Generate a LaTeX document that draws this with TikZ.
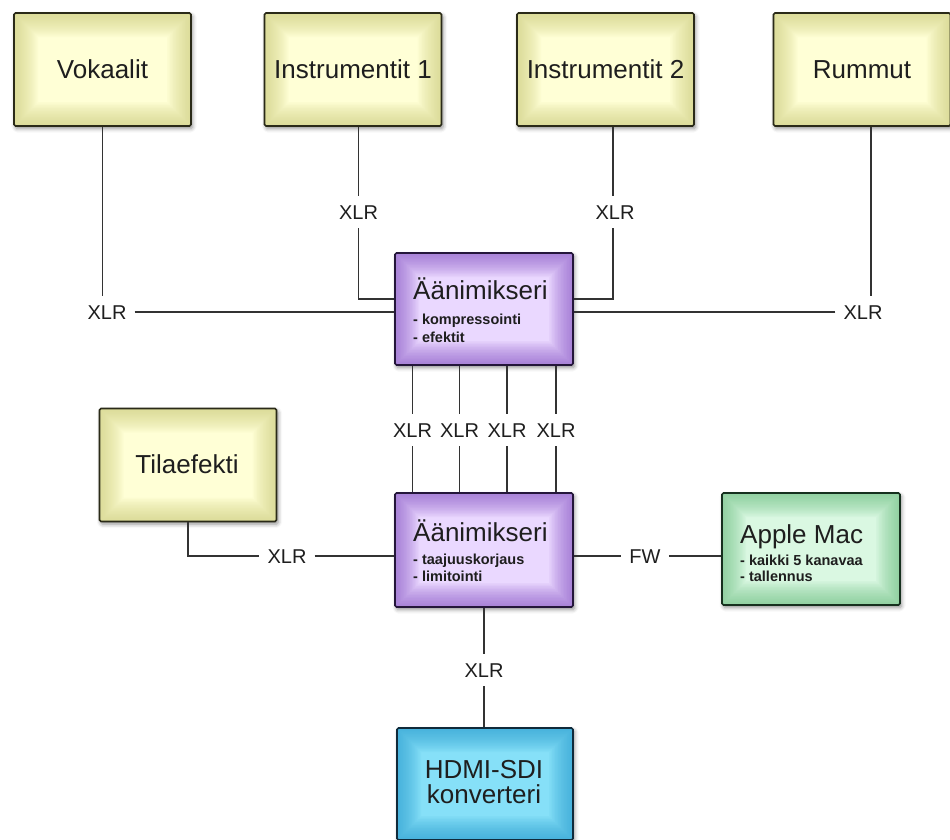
\documentclass[tikz,border=0pt]{standalone}
\usepackage{fontspec}
\setmainfont{Liberation Sans}
\usetikzlibrary{calc,shadows.blur}
\definecolor{txt}{HTML}{1E1E1E}
\definecolor{wire}{HTML}{333333}
\definecolor{yelIn}{HTML}{FFFFD6}
\definecolor{yelOut}{HTML}{CFCF7E}
\definecolor{yelBd}{HTML}{2A2A18}
\definecolor{purIn}{HTML}{EAD8FF}
\definecolor{purOut}{HTML}{8A58C8}
\definecolor{purBd}{HTML}{24163A}
\definecolor{grnIn}{HTML}{DAF8E2}
\definecolor{grnOut}{HTML}{6EC283}
\definecolor{grnBd}{HTML}{16301E}
\definecolor{bluIn}{HTML}{86E0F8}
\definecolor{bluOut}{HTML}{2A9ED2}
\definecolor{bluBd}{HTML}{102A3A}
\tikzset{
  box/.style={draw=#1Bd, line width=1.6pt, rounded corners=1.5pt, fill=#1In,
    minimum width=177pt, minimum height=113pt, inner sep=0pt,
    blur shadow={shadow xshift=1.5pt, shadow yshift=-2.5pt, shadow blur radius=4pt, shadow opacity=45},
    path picture={\foreach \w in {3,6,...,48}{\draw[draw=#1Out, line width=\w pt, draw opacity=0.06]
      (path picture bounding box.south west) rectangle (path picture bounding box.north east);}}},
  title/.style={text=txt, inner sep=0pt, font=\fontsize{26}{30}\selectfont},
  sub/.style={text=txt, inner sep=0pt, anchor=base west, font=\fontsize{14.5}{17}\selectfont\bfseries},
  lbl/.style={text=txt, inner xsep=8pt, inner ysep=9pt, text height=14.3pt, text depth=0pt,
    font=\fontsize{20}{24}\selectfont},
  wirestyle/.style={draw=wire, line width=1.4pt}
}
\begin{document}
\begin{tikzpicture}[x=1pt,y=-1pt]
\useasboundingbox (0,0) rectangle (950,839);
% boxes
\node[box=yel] (vok) at (102.5,69.5) {};
\node[box=yel] (in1) at (353,69.5) {};
\node[box=yel] (in2) at (605.5,69.5) {};
\node[box=yel] (rum) at (862,69.5) {};
\node[box=yel] (til) at (188,465) {};
\node[box=pur, minimum width=178pt, minimum height=112pt] (m1) at (484,309) {};
\node[box=pur, minimum width=178pt, minimum height=114pt] (m2) at (484,550) {};
\node[box=grn, minimum width=178pt, minimum height=112pt] (mac) at (811,549) {};
\node[box=blu, minimum width=176pt, minimum height=112pt] (hd) at (485,784) {};
% titles
\node[title, anchor=base] (tvok) at (102.5,78) {Vokaalit};
\node[title, anchor=base] (tin1) at (353,78) {Instrumentit 1};
\node[title, anchor=base] (tin2) at (605.5,78) {Instrumentit 2};
\node[title, anchor=base] (trum) at (862,78) {Rummut};
\node[title, anchor=base] (ttil) at (187,473) {Tilaefekti};
\node[title, anchor=base west] (tm1) at (413,299) {Äänimikseri};
\node[sub] (sm1a) at (413,324) {- kompressointi};
\node[sub] (sm1b) at (413,342) {- efektit};
\node[title, anchor=base west] (tm2) at (413,541) {Äänimikseri};
\node[sub] (sm2a) at (413,564) {- taajuuskorjaus};
\node[sub] (sm2b) at (413,581) {- limitointi};
\node[title, anchor=base west] (tmac) at (740,543) {Apple Mac};
\node[sub] (smaca) at (740,565) {- kaikki 5 kanavaa};
\node[sub] (smacb) at (740,581) {- tallennus};
\node[title, anchor=base] (thd1) at (484,778) {HDMI-SDI};
\node[title, anchor=base] (thd2) at (484,803) {konverteri};
% labels
\node[lbl] (xV) at (107,312) {XLR};
\node[lbl] (xI1) at (358.5,212) {XLR};
\node[lbl] (xI2) at (615,212) {XLR};
\node[lbl] (xR) at (863,312) {XLR};
\node[lbl] (xa) at (412.5,430) {XLR};
\node[lbl] (xb) at (459.5,430) {XLR};
\node[lbl] (xc) at (507,430) {XLR};
\node[lbl] (xd) at (556,430) {XLR};
\node[lbl] (xT) at (287,556) {XLR};
\node[lbl] (xF) at (645,556) {FW};
\node[lbl] (xH) at (484,670) {XLR};
% wires
\draw[wirestyle] (vok.south) -- (vok.south |- xV.north);
\draw[wirestyle] (xV.east) -- (m1.west |- xV.east);
\draw[wirestyle] (in1.south -| xI1) -- (xI1.north);
\draw[wirestyle] (xI1.south) |- ([yshift=10pt]m1.west);
\draw[wirestyle] ([xshift=7.5pt]in2.south) -- ([xshift=7.5pt]in2.south |- xI2.north);
\draw[wirestyle] ([xshift=-2pt]xI2.south) |- ([yshift=10pt]m1.east);
\draw[wirestyle] ([xshift=9pt]rum.south) -- ([xshift=9pt]rum.south |- xR.north);
\draw[wirestyle] (xR.west) -- (m1.east |- xR.west);
\foreach \n in {xa,xb,xc,xd}{
  \draw[wirestyle] (m1.south -| \n) -- (\n.north);
  \draw[wirestyle] (\n.south) -- (m2.north -| \n);
}
\draw[wirestyle] (til.south) |- (xT.west);
\draw[wirestyle] (xT.east) -- (m2.west |- xT.east);
\draw[wirestyle] (m2.east |- xF.west) -- (xF.west);
\draw[wirestyle] (xF.east) -- (mac.west |- xF.east);
\draw[wirestyle] (m2.south) -- (xH.north);
\draw[wirestyle] (xH.south) -- (hd.north -| xH);
\end{tikzpicture}
\end{document}
